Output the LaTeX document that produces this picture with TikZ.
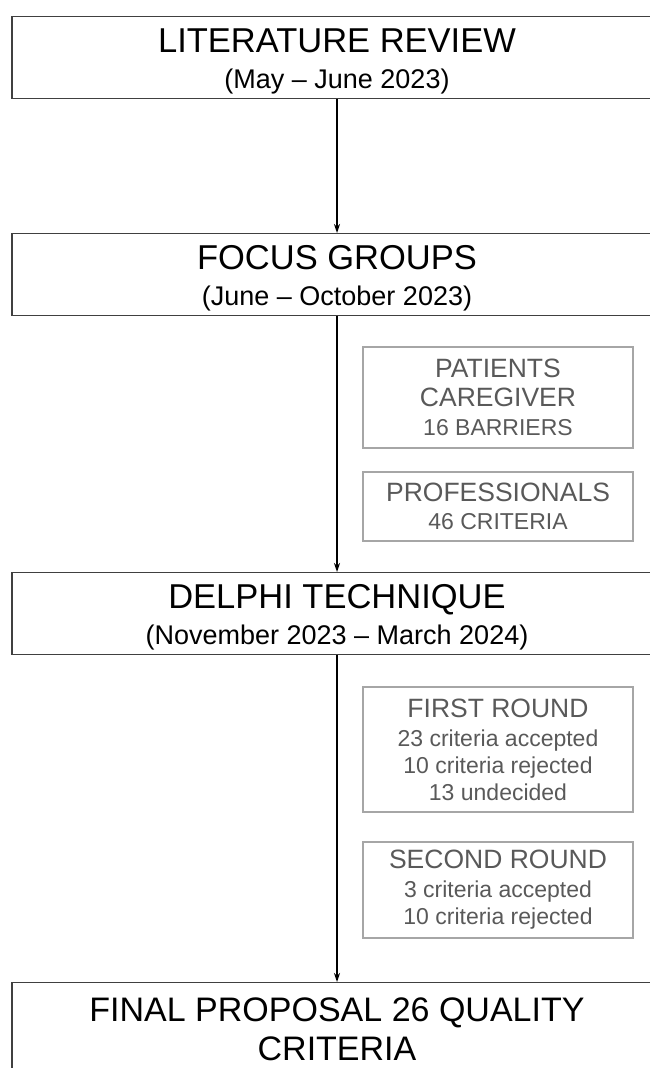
\documentclass[tikz,border=0pt]{standalone}
\usepackage{fontspec}
\setmainfont{Liberation Sans}
\usetikzlibrary{arrows.meta}

\definecolor{framegray}{HTML}{404040}
\definecolor{notegray}{HTML}{A6A6A6}
\definecolor{notetext}{HTML}{595959}

\newcommand\titlesize{\fontsize{34.5}{36}\selectfont}
\newcommand\datesize{\fontsize{27}{36}\selectfont}
\newcommand\headsize{\fontsize{26.5}{28}\selectfont}
\newcommand\countsize{\fontsize{23}{27}\selectfont}
\newcommand\topstrut{\rule{0pt}{32pt}}

\tikzset{
  stage/.style={draw=framegray, line width=1.3pt, minimum width=650pt,
    minimum height=82pt, inner sep=0pt, align=center, font=\titlesize},
  note/.style={draw=notegray, line width=1.1pt, text=notetext,
    minimum width=270pt, inner sep=0pt, align=center, font=\headsize},
  flow/.style={-{Stealth[length=9pt,width=6pt]}, line width=1.3pt}
}

\begin{document}
\begin{tikzpicture}[x=1pt,y=-1pt]
  \useasboundingbox (0,0) rectangle (649,1068);

  %% main stages down the middle
  \node[stage, anchor=north] (lit) at (337,16)
    {\topstrut LITERATURE REVIEW\\{\datesize (May -- June 2023)}};
  \node[stage, anchor=north] (focus) at (337,233)
    {\topstrut FOCUS GROUPS\\{\datesize (June -- October 2023)}};
  \node[stage, anchor=north] (delphi) at (337,572)
    {\topstrut DELPHI TECHNIQUE\\{\datesize (November 2023 -- March 2024)}};
  \node[stage, anchor=north, minimum height=93pt,
    font=\fontsize{34}{39}\selectfont] (final) at (337,982)
    {FINAL PROPOSAL 26 QUALITY\\CRITERIA};

  %% results beside the line
  \node[note, minimum height=101pt] (patients) at (498,397.5)
    {PATIENTS\\[1pt]CAREGIVER\\[1pt]{\countsize 16 BARRIERS}};
  \node[note, minimum height=69pt] (profs) at (498,506.5)
    {PROFESSIONALS\\{\countsize 46 CRITERIA}};
  \node[note, minimum height=125pt] (first) at (498,749.5)
    {FIRST ROUND\\[1pt]{\countsize 23 criteria accepted}\\[-1pt]
     {\countsize 10 criteria rejected}\\[-1pt]{\countsize 13 undecided}};
  \node[note, minimum height=96pt] (second) at (498,890)
    {SECOND ROUND\\[1pt]{\countsize 3 criteria accepted}\\[-1pt]
     {\countsize 10 criteria rejected}};

  \draw[flow] (lit.south) -- (focus.north);
  \draw[flow] (focus.south) -- (delphi.north);
  \draw[flow] (delphi.south) -- (final.north);
\end{tikzpicture}
\end{document}
